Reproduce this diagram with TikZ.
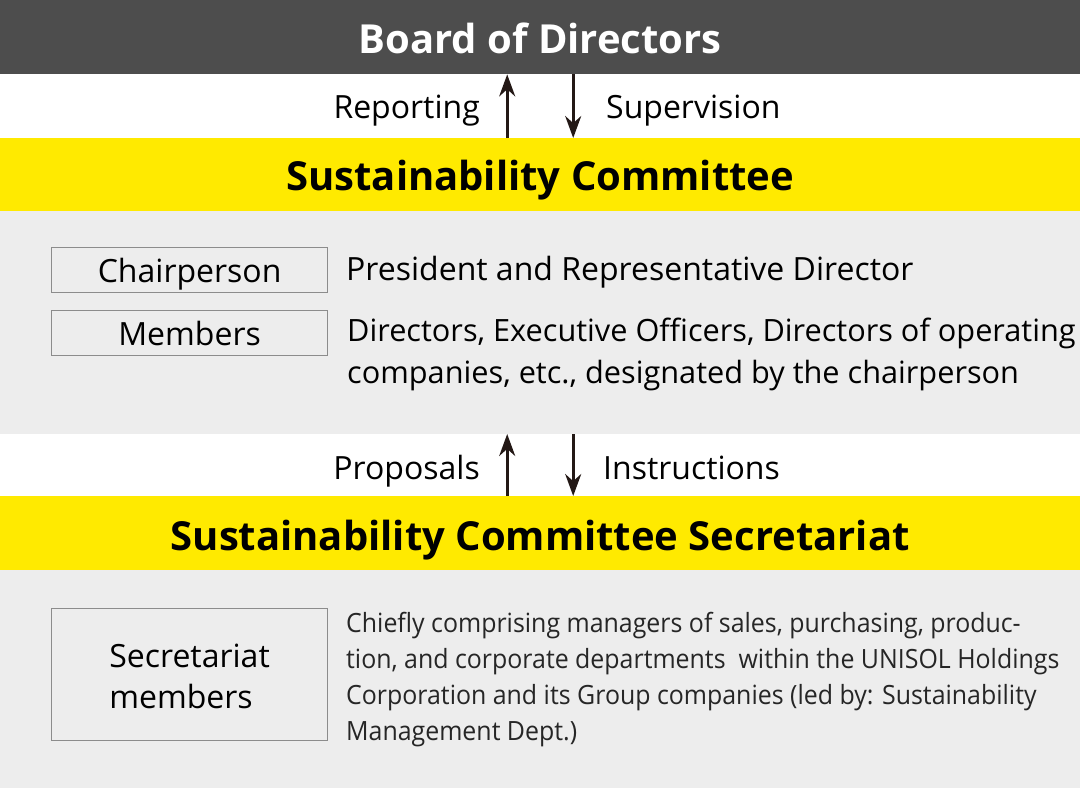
\documentclass[tikz,border=0pt]{standalone}
\usepackage{fontspec}
\setmainfont{Open Sans}
\usetikzlibrary{positioning,arrows.meta}
\definecolor{boardgrey}{HTML}{4D4D4D}
\definecolor{bandyellow}{HTML}{FFEA00}
\definecolor{panelgrey}{HTML}{EDEDED}
\definecolor{arrowink}{HTML}{231815}
\definecolor{boxline}{HTML}{8C8C8C}

\begin{document}
\begin{tikzpicture}
  [x=1pt, y=-1pt,
   band/.style={anchor=north west, minimum width=1080pt, inner sep=0pt,
     text height=31pt, text depth=0pt,
     font=\bfseries\fontsize{40}{46}\selectfont},
   rolebox/.style={draw=boxline, line width=1.2pt, fill=panelgrey, anchor=north west,
     minimum width=276pt, minimum height=45pt, inner sep=0pt,
     text height=25pt, text depth=0pt,
     font=\fontsize{32}{41}\selectfont},
   flow/.style={draw=arrowink, line width=2.6pt, -{Stealth[length=22pt,width=16pt]}},
   flowtext/.style={inner sep=0pt, font=\fontsize{32}{38}\selectfont},
   detail/.style={inner sep=0pt, anchor=base west, align=left,
     font=\fontsize{31}{42}\selectfont}]
  \useasboundingbox (0,0) rectangle (1080,788);
  \fill[white] (0,0) rectangle (1080,788);
  % bands
  \node[band, fill=boardgrey, text=white, minimum height=74pt, text height=32pt] (board) at (0,0) {Board of Directors};
  \node[band, fill=bandyellow, minimum height=73pt] (committee) at (0,138) {Sustainability Committee};
  \fill[panelgrey] (0,211) rectangle (1080,434);
  \node[band, fill=bandyellow, minimum height=74pt, text height=34pt] (secretariat) at (0,496) {Sustainability Committee Secretariat};
  \fill[panelgrey] (0,570) rectangle (1080,788);
  % reporting lines
  \draw[flow] ([xshift=-33pt]committee.north) -- ([xshift=-33pt]board.south);
  \draw[flow] ([xshift=33pt]board.south) -- ([xshift=33pt]committee.north);
  \node[flowtext, anchor=base east] (reporting) at (480,118) {Reporting};
  \node[flowtext, anchor=base west] (supervision) at (606,118) {Supervision};
  \draw[flow] ([xshift=-33pt]secretariat.north) -- ([xshift=-33pt]committee.south |- 0,434);
  \draw[flow] ([xshift=33pt]committee.south |- 0,434) -- ([xshift=33pt]secretariat.north);
  \node[flowtext, anchor=base east] (proposals) at (480,479) {Proposals};
  \node[flowtext, anchor=base west] (instructions) at (603,479) {Instructions};
  % committee members
  \node[rolebox] (chair) at (51,247) {Chairperson};
  \node[rolebox] (members) at (51,310) {Members};
  \node[detail, font=\fontsize{32}{42}\selectfont] (chairinfo) at (346,280) {President and Representative Director};
  \node[detail, font=\fontsize{30.7}{42}\selectfont] (membersinfo) at (347,383) {Directors, Executive Officers, Directors of operating\\companies, etc., designated by the chairperson};
  % secretariat members
  \node[rolebox, minimum height=132pt, text height=68pt, align=left] (staff) at (51,608) {Secretariat\\members};
  \node[detail, text=black!85, font=\addfontfeature{FakeStretch=0.94}\fontsize{26.5}{36}\selectfont] (staffinfo) at (346,740) {Chiefly comprising managers of sales, purchasing, produc-\\tion, and corporate departments~ within the UNISOL Holdings\\Corporation and its Group companies (led by: Sustainability\\Management Dept.)};
\end{tikzpicture}
\end{document}
